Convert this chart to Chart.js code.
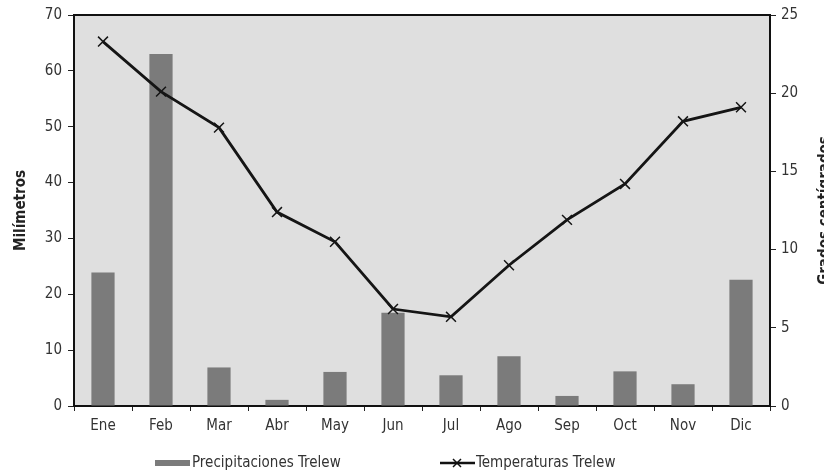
<!DOCTYPE html>
<html>
<head>
<meta charset="utf-8">
<script src="https://cdn.jsdelivr.net/npm/chart.js@4/dist/chart.umd.min.js"></script>
<style>
  html, body { margin: 0; padding: 0; background: #fff; }
  #wrap { width: 824px; height: 476px; position: relative; }
</style>
</head>
<body>
<div id="wrap"><canvas id="climaChart" width="824" height="476"></canvas></div>
<script>
// months (categories)
const meses = ['Ene', 'Feb', 'Mar', 'Abr', 'May', 'Jun', 'Jul', 'Ago', 'Sep', 'Oct', 'Nov', 'Dic'];

const precipitaciones = [23.9, 63, 6.9, 1.1, 6.1, 16.7, 5.5, 8.9, 1.8, 6.2, 3.9, 22.6];
const temperaturas = [23.3, 20.1, 17.8, 12.4, 10.5, 6.2, 5.7, 9.0, 11.9, 14.2, 18.2, 19.1];

const ticksMm = [0, 10, 20, 30, 40, 50, 60, 70];
const ticksGrados = [0, 5, 10, 15, 20, 25];

const FONT = '"Liberation Sans Narrow", "DejaVu Sans Condensed", Arial, sans-serif';
const TXT = '#333333';

//paints grey plot area, top border, right title and the legend
const decoPlugin = {
    id: 'deco',
    beforeDraw(chart) {
        const { ctx, chartArea: a } = chart;
        ctx.save();
        ctx.fillStyle = '#dfdfdf';
        ctx.fillRect(a.left, a.top, a.right - a.left, a.bottom - a.top);
        ctx.restore();
    },
    afterDraw(chart) {
        const { ctx, chartArea: a } = chart;
        ctx.save();
        // top frame line
        ctx.strokeStyle = '#111';
        ctx.lineWidth = 2;
        ctx.beginPath();
        ctx.moveTo(a.left, a.top);
        ctx.lineTo(a.right, a.top);
        ctx.stroke();

        // right axis title, reads bottom to top
        ctx.translate(825, (a.top + a.bottom) / 2);
        ctx.rotate(-Math.PI / 2);
        ctx.fillStyle = '#222';
        ctx.font = 'bold 15px ' + FONT;
        ctx.textAlign = 'center';
        ctx.textBaseline = 'middle';
        ctx.fillText('Grados centígrados', 0, 0);
        ctx.restore();

        // legend
        ctx.save();
        const ly = 463;
        ctx.fillStyle = '#7b7b7b';
        ctx.fillRect(155, ly - 3, 35, 6);
        ctx.font = '15px ' + FONT;
        ctx.fillStyle = TXT;
        ctx.textBaseline = 'middle';
        ctx.fillText('Precipitaciones Trelew', 192, ly);

        ctx.strokeStyle = '#111';
        ctx.lineWidth = 2.5;
        ctx.beginPath();
        ctx.moveTo(440, ly);
        ctx.lineTo(475, ly);
        ctx.stroke();
        ctx.lineWidth = 1.5;
        ctx.beginPath();
        ctx.moveTo(453, ly - 4); ctx.lineTo(461, ly + 4);
        ctx.moveTo(453, ly + 4); ctx.lineTo(461, ly - 4);
        ctx.stroke();
        ctx.fillText('Temperaturas Trelew', 476, ly);
        ctx.restore();
    }
};

const ctx = document.getElementById('climaChart').getContext('2d');

new Chart(ctx, {
    type: 'bar',
    data: {
        labels: meses,
        datasets: [
            {
                type: 'line',
                label: 'Temperaturas Trelew',
                data: temperaturas,
                yAxisID: 'y1',
                borderColor: '#151515',
                borderWidth: 2.8,
                pointStyle: 'cross',
                pointRotation: 45,
                pointRadius: 7,
                pointBorderWidth: 1.5,
                pointBorderColor: '#151515',
                tension: 0,
                order: 0
            },
            {
                label: 'Precipitaciones Trelew',
                data: precipitaciones,
                yAxisID: 'y',
                backgroundColor: '#7b7b7b',
                barPercentage: 0.4,
                categoryPercentage: 1,
                order: 1
            }
        ]
    },
    options: {
        responsive: false,
        animation: false,
        layout: { padding: { top: 13, left: 0, right: 0, bottom: 0 } },
        plugins: {
            legend: { display: false },
            tooltip: { enabled: false }
        },
        scales: {
            x: {
                grid: { display: true, drawOnChartArea: false, offset: true, tickLength: 5, color: '#222' },
                border: { display: true, color: '#111', width: 2 },
                ticks: { color: TXT, font: { family: FONT, size: 15 }, padding: 6, maxRotation: 0 },
                afterFit: (s) => { s.height = 70; }
            },
            y: {
                position: 'left',
                min: 0,
                max: 70,
                afterBuildTicks: (s) => { s.ticks = ticksMm.map(v => ({ value: v })); },
                grid: { display: true, drawOnChartArea: false, tickLength: 6, color: '#222' },
                border: { display: true, color: '#111', width: 2 },
                ticks: { color: TXT, font: { family: FONT, size: 15 }, padding: 6 },
                title: {
                    display: true,
                    text: 'Milímetros',
                    color: '#222',
                    font: { family: FONT, size: 15, weight: 'bold' },
                    padding: { top: 12, bottom: 0 }
                },
                afterFit: (s) => { s.width = 74; }
            },
            y1: {
                position: 'right',
                min: 0,
                max: 25,
                afterBuildTicks: (s) => { s.ticks = ticksGrados.map(v => ({ value: v })); },
                grid: { display: true, drawOnChartArea: false, tickLength: 6, color: '#222' },
                border: { display: true, color: '#111', width: 2 },
                ticks: { color: TXT, font: { family: FONT, size: 15 }, padding: 5 },
                afterFit: (s) => { s.width = 54; }
            }
        }
    },
    plugins: [decoPlugin]
});
</script>
</body>
</html>
